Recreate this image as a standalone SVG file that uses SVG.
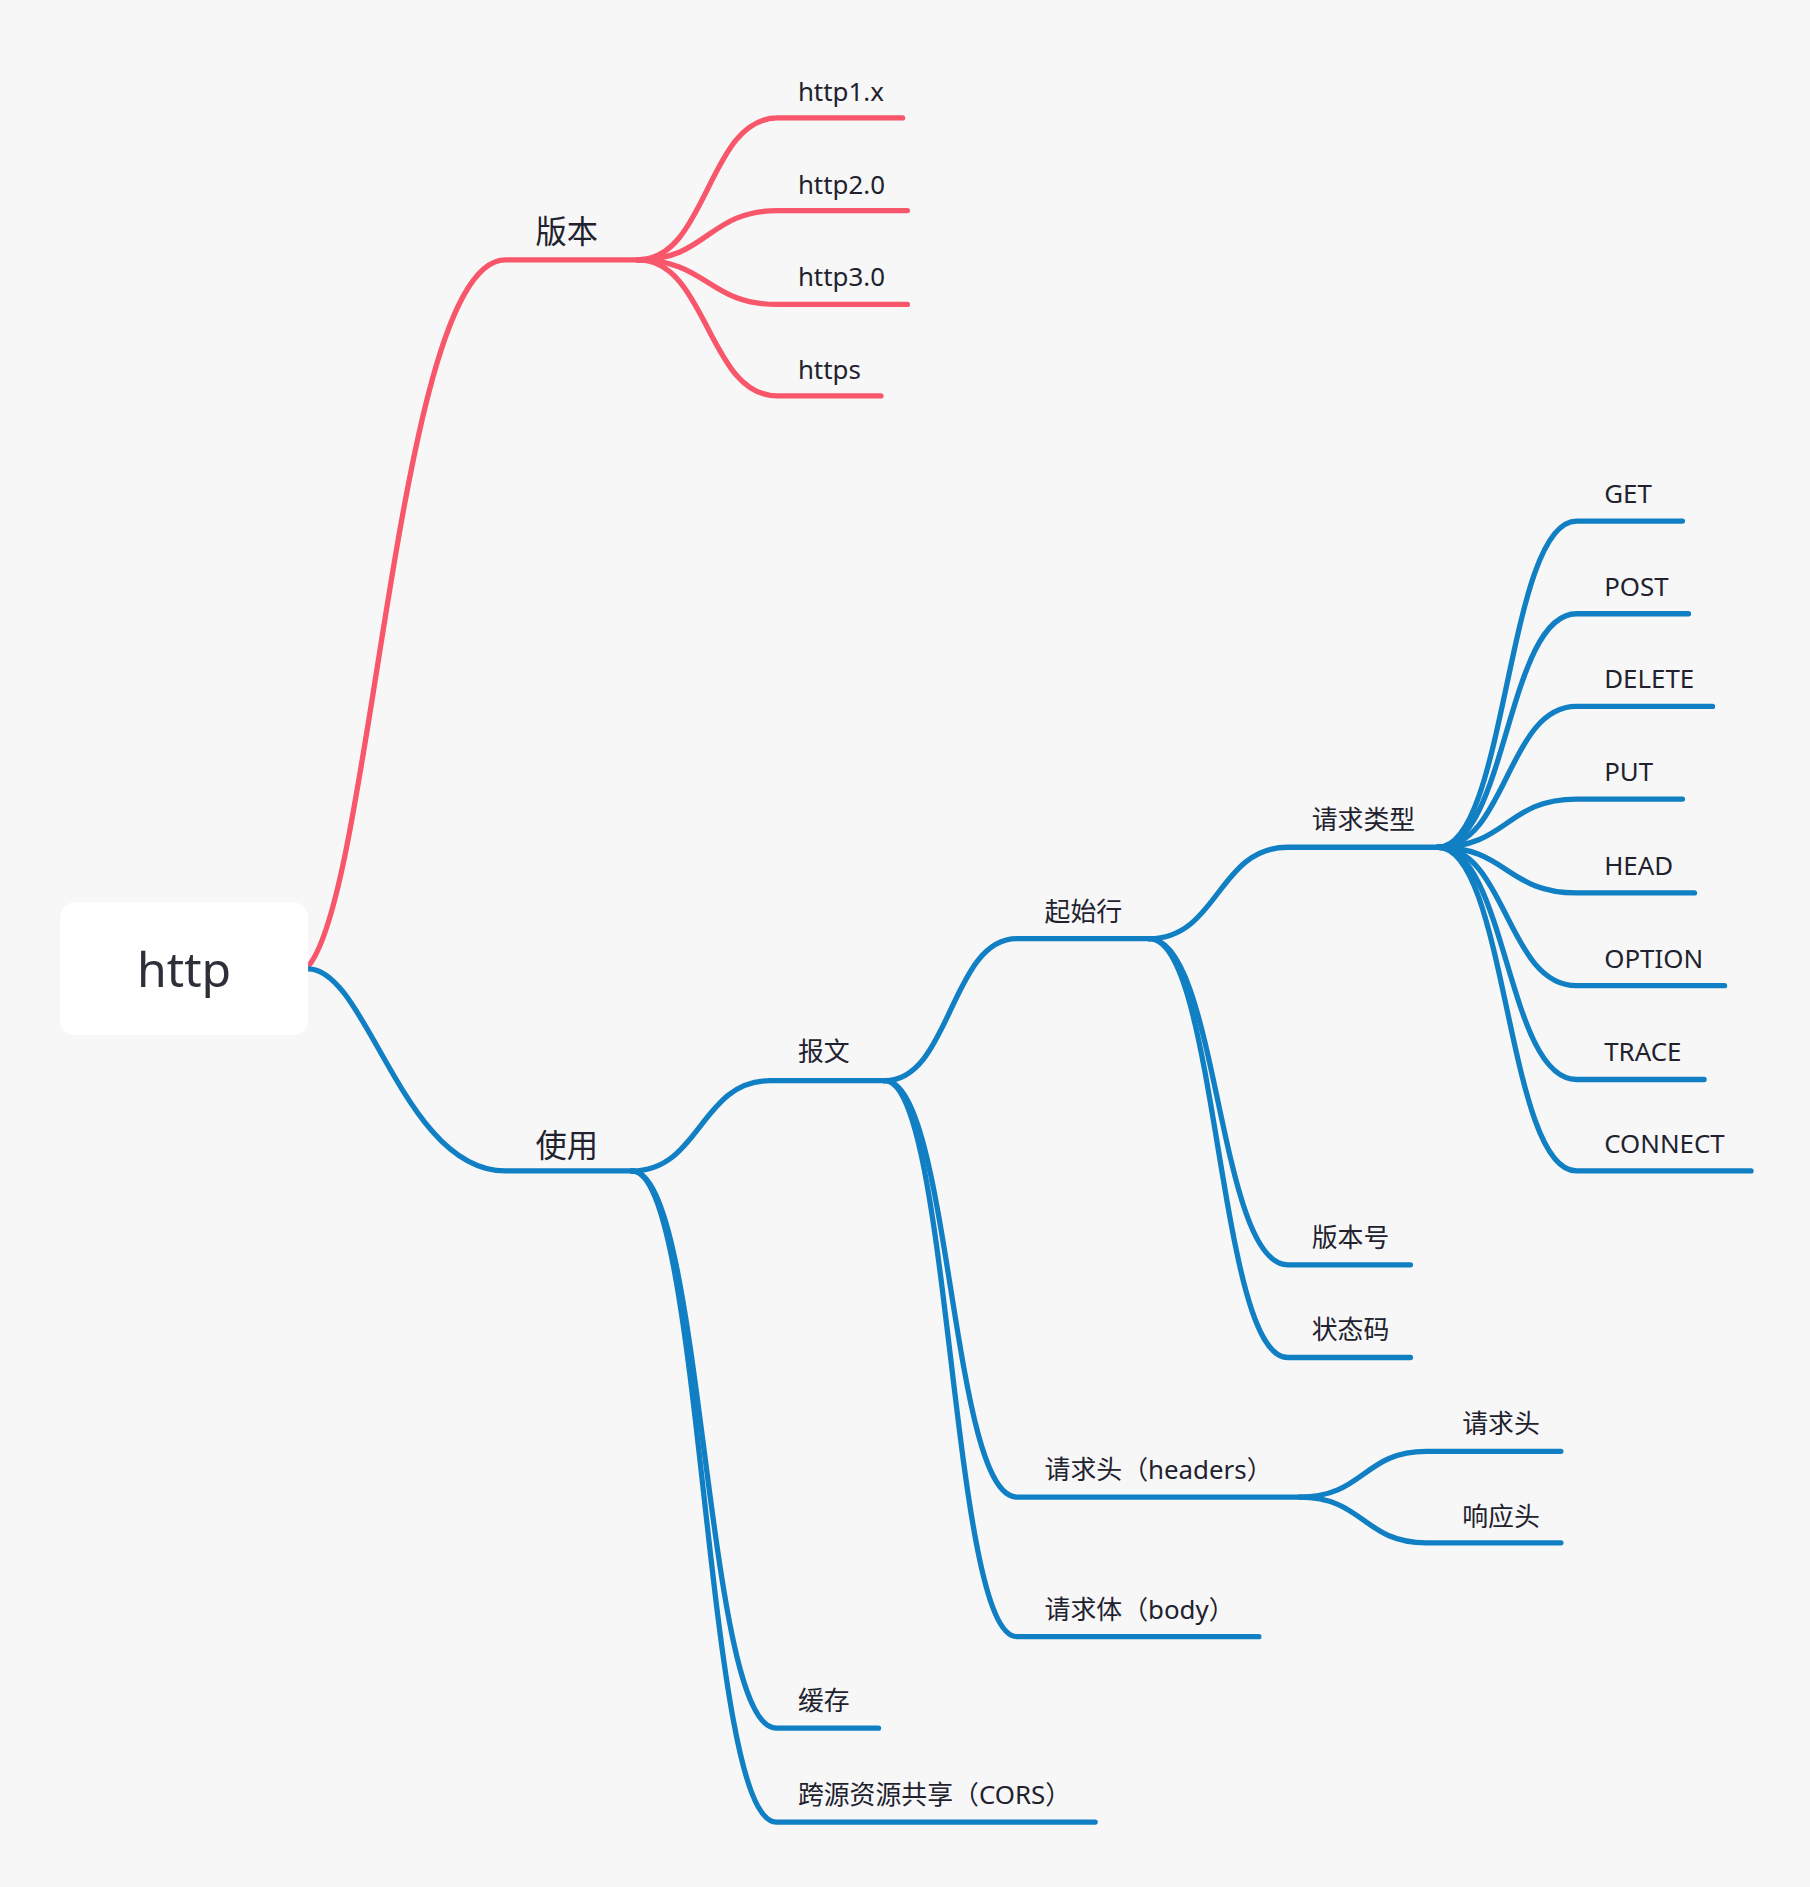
<svg xmlns="http://www.w3.org/2000/svg" width="1810" height="1887" viewBox="0 0 1810 1887">
<style>
.bg{fill:#f7f7f7}
.c{fill:none;stroke-width:4.4;stroke-linecap:round;stroke-linejoin:round}
.r{stroke:#f8566a}
.b{stroke:#107fc3}
.t{font-family:"Noto Sans","Noto Sans CJK SC",sans-serif;font-size:21.5px;fill:#22222f}
.t2{font-family:"Noto Sans","Noto Sans CJK SC",sans-serif;font-size:26px;fill:#22222f}
.root{font-family:"Noto Sans","Noto Sans CJK SC",sans-serif;font-size:40px;fill:#2d3038}
</style>
<rect class="bg" x="0" y="0" width="1810" height="1887"/>
<g transform="scale(1.20346)">
<g id="connectors">
<path class="c r" d="M256,803 C310,740 330,216 420,216 H530"/>
<path class="c r" d="M530,216 C588,216 588,98 646,98 H750"/>
<path class="c r" d="M530,216 C588,216 588,175 646,175 H754"/>
<path class="c r" d="M530,216 C588,216 588,253 646,253 H754"/>
<path class="c r" d="M530,216 C588,216 588,329 646,329 H732"/>
<path class="c b" d="M256,805 C305,805 335,973 420,973 H525"/>
<path class="c b" d="M525,973 C582,973 582,898 640,898 H735"/>
<path class="c b" d="M525,973 C585,973 585,1436 645,1436 H730"/>
<path class="c b" d="M525,973 C585,973 585,1514 645,1514 H910"/>
<path class="c b" d="M735,898 C790,898 790,780 845,780 H955"/>
<path class="c b" d="M735,898 C790,898 790,1244 845,1244 H1080"/>
<path class="c b" d="M735,898 C790,898 790,1360 845,1360 H1046"/>
<path class="c b" d="M955,780 C1012,780 1012,704 1070,704 H1195"/>
<path class="c b" d="M955,780 C1012,780 1012,1051 1070,1051 H1172"/>
<path class="c b" d="M955,780 C1012,780 1012,1128 1070,1128 H1172"/>
<path class="c b" d="M1195,704 C1252,704 1252,433 1310,433 H1398"/>
<path class="c b" d="M1195,704 C1252,704 1252,510 1310,510 H1403"/>
<path class="c b" d="M1195,704 C1252,704 1252,587 1310,587 H1423"/>
<path class="c b" d="M1195,704 C1252,704 1252,664 1310,664 H1398"/>
<path class="c b" d="M1195,704 C1252,704 1252,742 1310,742 H1408"/>
<path class="c b" d="M1195,704 C1252,704 1252,819 1310,819 H1433"/>
<path class="c b" d="M1195,704 C1252,704 1252,897 1310,897 H1416"/>
<path class="c b" d="M1195,704 C1252,704 1252,973 1310,973 H1455"/>
<path class="c b" d="M1080,1244 C1133,1244 1133,1206 1185,1206 H1297"/>
<path class="c b" d="M1080,1244 C1133,1244 1133,1282 1185,1282 H1297"/>
</g>
<g id="node-root"><rect x="50" y="750" width="206" height="110" rx="12" fill="#ffffff"/><text class="root" x="153" y="820" text-anchor="middle">http</text></g>
<g id="node-banben"><text class="t2" x="445" y="202">版本</text></g>
<g id="node-http1x"><text class="t" x="663" y="84">http1.x</text></g>
<g id="node-http20"><text class="t" x="663" y="161">http2.0</text></g>
<g id="node-http30"><text class="t" x="663" y="238">http3.0</text></g>
<g id="node-https"><text class="t" x="663" y="315">https</text></g>
<g id="node-shiyong"><text class="t2" x="445" y="961">使用</text></g>
<g id="node-baowen"><text class="t" x="663" y="882">报文</text></g>
<g id="node-huancun"><text class="t" x="663" y="1421">缓存</text></g>
<g id="node-cors"><text class="t" x="663" y="1499">跨源资源共享（CORS）</text></g>
<g id="node-qishihang"><text class="t" x="868" y="765">起始行</text></g>
<g id="node-headers"><text class="t" x="868" y="1229">请求头（headers）</text></g>
<g id="node-body"><text class="t" x="868" y="1345">请求体（body）</text></g>
<g id="node-qingqiuleixing"><text class="t" x="1090" y="689">请求类型</text></g>
<g id="node-banbenhao"><text class="t" x="1090" y="1036">版本号</text></g>
<g id="node-zhuangtaima"><text class="t" x="1090" y="1113">状态码</text></g>
<g id="node-get"><text class="t" x="1333" y="418">GET</text></g>
<g id="node-post"><text class="t" x="1333" y="495">POST</text></g>
<g id="node-delete"><text class="t" x="1333" y="572">DELETE</text></g>
<g id="node-put"><text class="t" x="1333" y="649">PUT</text></g>
<g id="node-head"><text class="t" x="1333" y="727">HEAD</text></g>
<g id="node-option"><text class="t" x="1333" y="804">OPTION</text></g>
<g id="node-trace"><text class="t" x="1333" y="882">TRACE</text></g>
<g id="node-connect"><text class="t" x="1333" y="958">CONNECT</text></g>
<g id="node-reqhead"><text class="t" x="1215" y="1191">请求头</text></g>
<g id="node-resphead"><text class="t" x="1215" y="1268">响应头</text></g>
</g>
</svg>
